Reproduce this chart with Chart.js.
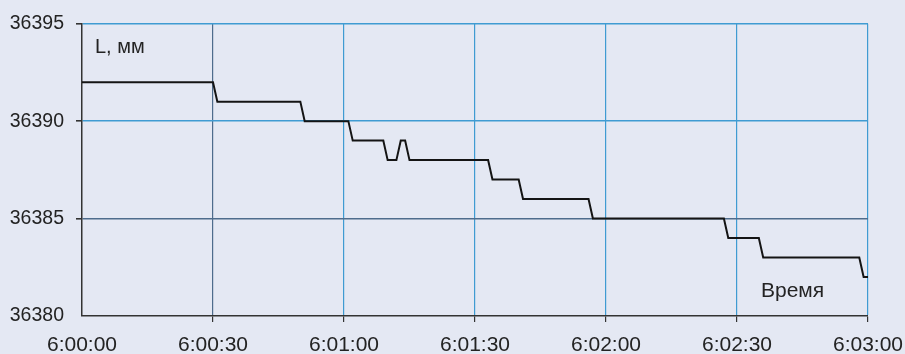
<!DOCTYPE html>
<html>
<head>
<meta charset="utf-8">
<script src="https://cdn.jsdelivr.net/npm/chart.js@4.4.1/dist/chart.umd.min.js"></script>
<style>
  html, body { margin: 0; padding: 0; background: #e4e8f3; }
  #wrap { width: 905px; height: 354px; }
</style>
</head>
<body>
<div id="wrap"><canvas id="c" width="905" height="354"></canvas></div>
<script>
// Seconds after 6:00:00 and the measured length L (mm) at each moment
const seconds = [0, 30, 31, 50, 51, 61, 62, 69, 70, 72, 73, 74, 75, 93, 94, 100, 101, 116, 117, 147, 148, 155, 156, 178, 179, 180];
const lengthMm = [36392, 36392, 36391, 36391, 36390, 36390, 36389, 36389, 36388, 36388, 36389, 36389, 36388, 36388, 36387, 36387, 36386, 36386, 36385, 36385, 36384, 36384, 36383, 36383, 36382, 36382];

// Axis tick labels
const timeTicks = ['6:00:00', '6:00:30', '6:01:00', '6:01:30', '6:02:00', '6:02:30', '6:03:00'];
const yTicks = [36380, 36385, 36390, 36395];

const points = seconds.map((s, i) => ({ x: s, y: lengthMm[i] }));

const FONT = "'Liberation Sans', Arial, sans-serif";
const TEXT = '#232323';
const GRID_LIGHT = '#3f9bd2';
const GRID_DARK = '#4e6c8c';

// Axis captions drawn inside the plot area
const captions = {
  id: 'captions',
  afterDraw(chart) {
    const ctx = chart.ctx;
    const a = chart.chartArea;
    ctx.save();
    ctx.fillStyle = TEXT;
    ctx.textBaseline = 'middle';
    ctx.textAlign = 'left';
    ctx.font = '20px ' + FONT;
    ctx.fillText('L, мм', a.left + 13, a.top + 24);
    ctx.font = '21px ' + FONT;
    ctx.fillText('Время', a.right - 107, a.bottom - 25);
    ctx.restore();
  }
};

new Chart(document.getElementById('c'), {
  type: 'line',
  data: {
    datasets: [{
      data: points,
      borderColor: '#141414',
      borderWidth: 2,
      pointRadius: 0,
      tension: 0,
      fill: false
    }]
  },
  options: {
    responsive: false,
    animation: false,
    plugins: { legend: { display: false }, tooltip: { enabled: false } },
    layout: { padding: { top: 22, right: 37, left: 0, bottom: 0 } },
    scales: {
      x: {
        type: 'linear',
        min: 0, max: 180,
        afterFit(axis) {
          axis.height = 38;
          // the end labels may overhang the plot edges
          axis.paddingLeft = 0;
          axis.paddingRight = 0;
        },
        afterBuildTicks(axis) { axis.ticks = timeTicks.map((_, i) => ({ value: i * 30 })); },
        ticks: {
          callback: (v) => timeTicks[Math.round(v / 30)],
          font: { family: FONT, size: 21 },
          color: TEXT,
          padding: 11,
          maxRotation: 0,
          autoSkip: false
        },
        grid: {
          color: (c) => c.tick && c.tick.value === 30 ? GRID_DARK : GRID_LIGHT,
          lineWidth: (c) => c.tick && c.tick.value === 0 ? 0 : 1.2,
          tickColor: '#333',
          tickLength: 6
        },
        border: { color: '#333', width: 1.5 }
      },
      y: {
        min: 36380, max: 36395,
        afterFit(axis) { axis.width = 82; },
        afterBuildTicks(axis) { axis.ticks = yTicks.map(v => ({ value: v })); },
        ticks: {
          callback: (v) => String(v),
          font: { family: FONT, size: 19.5 },
          color: TEXT,
          padding: 12
        },
        grid: {
          color: (c) => c.tick && c.tick.value === 36385 ? GRID_DARK : GRID_LIGHT,
          lineWidth: (c) => c.tick && c.tick.value === 36380 ? 0 : 1.6,
          tickColor: '#333',
          tickLength: 6
        },
        border: { color: '#333', width: 1.5 }
      }
    }
  },
  plugins: [captions]
});
</script>
</body>
</html>
